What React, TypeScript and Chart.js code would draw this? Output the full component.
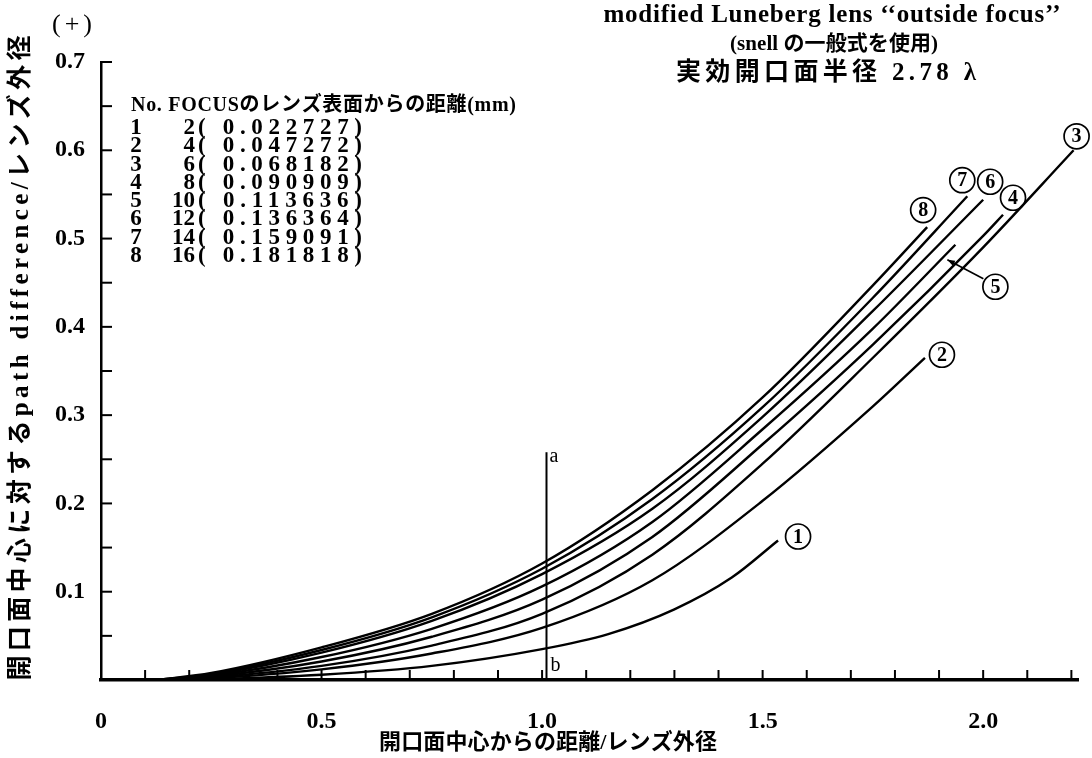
import React, { useEffect, useRef } from 'react';
import { Chart, registerables } from 'chart.js';

Chart.register(...registerables);

const SERIF = "'Liberation Serif', 'DejaVu Serif', 'Noto Sans CJK JP', serif";

// ---- data ----
const C1_X = [0.125, 0.25, 0.5, 0.75, 1.0, 1.15, 1.3, 1.43, 1.535];
const C1_Y = [0, 0.001, 0.006, 0.016, 0.035, 0.052, 0.08, 0.116, 0.158];
const C2_X = [0.125, 0.25, 0.5, 0.75, 1.0, 1.25, 1.5, 1.75, 1.868];
const C2_Y = [0, 0.002, 0.012, 0.03, 0.059, 0.113, 0.203, 0.31, 0.365];
const C3_X = [0.125, 0.25, 0.5, 0.75, 1.0, 1.25, 1.5, 1.75, 2.0, 2.205];
const C3_Y = [0, 0.003, 0.016, 0.039, 0.075, 0.142, 0.245, 0.365, 0.49, 0.6];
const C4_X = [0.125, 0.25, 0.5, 0.75, 1.0, 1.25, 1.5, 1.75, 2.0, 2.045];
const C4_Y = [0, 0.004, 0.021, 0.049, 0.091, 0.162, 0.267, 0.38, 0.503, 0.527];
const C5_X = [0.125, 0.25, 0.5, 0.75, 1.0, 1.25, 1.5, 1.75, 1.937];
const C5_Y = [0, 0.005, 0.026, 0.058, 0.106, 0.179, 0.284, 0.398, 0.493];
const C6_X = [0.125, 0.25, 0.5, 0.75, 1.0, 1.25, 1.5, 1.75, 2.0];
const C6_Y = [0, 0.006, 0.031, 0.067, 0.12, 0.194, 0.298, 0.418, 0.544];
const C7_X = [0.125, 0.25, 0.5, 0.75, 1.0, 1.25, 1.5, 1.75, 1.964];
const C7_Y = [0, 0.007, 0.034, 0.071, 0.126, 0.205, 0.309, 0.433, 0.548];
const C8_X = [0.125, 0.25, 0.5, 0.75, 1.0, 1.25, 1.5, 1.75, 1.873];
const C8_Y = [0, 0.008, 0.037, 0.075, 0.132, 0.215, 0.32, 0.447, 0.513];

const AB_X = [1.01, 1.01];
const AB_Y = [0, 0.258];

const CURVE_LABELS = ['1', '2', '3', '4', '5', '6', '7', '8'];

const X_TICKS = [0, 0.1, 0.2, 0.3, 0.4, 0.5, 0.6, 0.7, 0.8, 0.9, 1.0, 1.1, 1.2, 1.3, 1.4, 1.5, 1.6, 1.7, 1.8, 1.9, 2.0, 2.1, 2.2];
const X_LABELED = [0, 0.5, 1.0, 1.5, 2.0];
const Y_TICKS = [0, 0.05, 0.1, 0.15, 0.2, 0.25, 0.3, 0.35, 0.4, 0.45, 0.5, 0.55, 0.6, 0.65, 0.7];
const Y_LABELED = [0.1, 0.2, 0.3, 0.4, 0.5, 0.6, 0.7];

const LEGEND_HEADER = 'No. FOCUSのレンズ表面からの距離(mm)';
const LEGEND_NO = ['1', '2', '3', '4', '5', '6', '7', '8'];
const LEGEND_MM = ['2', '4', '6', '8', '10', '12', '14', '16'];
const LEGEND_RATIO = ['0.022727', '0.047272', '0.068182', '0.090909', '0.113636', '0.136364', '0.159091', '0.181818'];

const TITLE_LINES = ['modified Luneberg lens ‘‘outside focus’’', '(snell の一般式を使用)', '実効開口面半径 2.78 λ'];
const X_TITLE = '開口面中心からの距離/レンズ外径';
const Y_TITLE = '開口面中心に対するpath difference/レンズ外径';
const SIGN_LABEL = '(+)';

const CURVES_X = [C1_X, C2_X, C3_X, C4_X, C5_X, C6_X, C7_X, C8_X];
const CURVES_Y = [C1_Y, C2_Y, C3_Y, C4_Y, C5_Y, C6_Y, C7_Y, C8_Y];

function fitText(ctx: CanvasRenderingContext2D, text: string, x: number, y: number, width: number, align: 'left' | 'center' | 'right') {
  (ctx as any).letterSpacing = '0px';
  ctx.textAlign = 'left';
  const w0 = ctx.measureText(text).width;
  const n = Array.from(text).length;
  let ls = n > 1 ? (width - w0) / (n - 1) : 0;
  ls = Math.max(-3, Math.min(14, ls));
  (ctx as any).letterSpacing = ls + 'px';
  const visible = w0 + ls * (n - 1);
  const sx = align === 'center' ? x - visible / 2 : align === 'right' ? x - visible : x;
  ctx.fillText(text, sx, y);
  (ctx as any).letterSpacing = '0px';
}

const LABEL_OFFSETS = [[20, -4], [17, -3], [3, -14], [10, -17], [40, 42], [7, -18], [-5, -16], [-4, -17]];

const annotate = {
  id: 'annotate',
  afterDraw(chart: any) {
    const ctx: CanvasRenderingContext2D = chart.ctx;
    const xs = chart.scales.x;
    const ys = chart.scales.y;
    const area = chart.chartArea;
    ctx.save();
    ctx.strokeStyle = '#000';
    ctx.fillStyle = '#000';
    ctx.textBaseline = 'middle';

    // inward ticks
    ctx.lineWidth = 2;
    xs.ticks.forEach((t: any) => {
      if (t.value === 0) return;
      const px = xs.getPixelForValue(t.value);
      ctx.beginPath();
      ctx.moveTo(px, area.bottom);
      ctx.lineTo(px, area.bottom - 10);
      ctx.stroke();
    });
    ys.ticks.forEach((t: any) => {
      if (t.value === 0) return;
      const py = ys.getPixelForValue(t.value);
      ctx.beginPath();
      ctx.moveTo(area.left, py);
      ctx.lineTo(area.left + 11, py);
      ctx.stroke();
    });

    // circled curve labels
    for (let i = 0; i < CURVE_LABELS.length; i++) {
      const meta = chart.getDatasetMeta(i);
      const pt = meta.data[meta.data.length - 1];
      const cx = pt.x + LABEL_OFFSETS[i][0];
      const cy = pt.y + LABEL_OFFSETS[i][1];
      ctx.lineWidth = 1.7;
      ctx.beginPath();
      ctx.arc(cx, cy, 12.5, 0, Math.PI * 2);
      ctx.stroke();
      ctx.font = `bold 20px ${SERIF}`;
      ctx.textAlign = 'center';
      ctx.fillText(CURVE_LABELS[i], cx, cy + 1);
      if (i === 4) {
        const tipX = pt.x - 8;
        const tipY = pt.y + 15;
        const sx = cx - 12;
        const sy = cy - 8;
        ctx.lineWidth = 1.6;
        ctx.beginPath();
        ctx.moveTo(sx, sy);
        ctx.lineTo(tipX, tipY);
        ctx.stroke();
        const ang = Math.atan2(tipY - sy, tipX - sx);
        ctx.beginPath();
        ctx.moveTo(tipX, tipY);
        ctx.lineTo(tipX - 8 * Math.cos(ang - 0.35), tipY - 8 * Math.sin(ang - 0.35));
        ctx.lineTo(tipX - 8 * Math.cos(ang + 0.35), tipY - 8 * Math.sin(ang + 0.35));
        ctx.closePath();
        ctx.fill();
      }
    }

    // a / b labels
    const abMeta = chart.getDatasetMeta(8);
    const pb = abMeta.data[0];
    const pa = abMeta.data[1];
    ctx.font = `20px ${SERIF}`;
    ctx.textAlign = 'left';
    ctx.fillText('a', pa.x + 3, pa.y + 5);
    ctx.fillText('b', pb.x + 4, pb.y - 14);

    // legend table
    ctx.font = `bold 20px ${SERIF}`;
    fitText(ctx, LEGEND_HEADER, 131, 106, 385, 'left');
    ctx.font = `bold 23px ${SERIF}`;
    for (let i = 0; i < LEGEND_NO.length; i++) {
      const y = 128 + i * 18.3;
      ctx.textAlign = 'center';
      ctx.fillText(LEGEND_NO[i], 136, y);
      ctx.textAlign = 'right';
      ctx.fillText(LEGEND_MM[i], 195, y);
      fitText(ctx, '( ' + LEGEND_RATIO[i] + ')', 198, y, 164, 'left');
    }

    // title
    ctx.font = `bold 25px ${SERIF}`;
    fitText(ctx, TITLE_LINES[0], 832, 16, 457, 'center');
    ctx.font = `bold 21px ${SERIF}`;
    fitText(ctx, TITLE_LINES[1], 834, 45, 208, 'center');
    ctx.font = `bold 25px ${SERIF}`;
    fitText(ctx, TITLE_LINES[2], 826, 74, 300, 'center');

    // sign
    ctx.font = `26px ${SERIF}`;
    fitText(ctx, SIGN_LABEL, 72, 25, 40, 'center');

    // axis titles
    ctx.font = `bold 22px ${SERIF}`;
    fitText(ctx, X_TITLE, 548, 743, 338, 'center');
    ctx.save();
    ctx.translate(22, 358);
    ctx.rotate(-Math.PI / 2);
    ctx.font = `bold 25px ${SERIF}`;
    fitText(ctx, Y_TITLE, 0, 0, 645, 'center');
    ctx.restore();

    ctx.restore();
  },
};

const near = (v: number, arr: number[]) => arr.some((a) => Math.abs(a - v) < 1e-6);

export default function App() {
  const ref = useRef<HTMLCanvasElement>(null);
  useEffect(() => {
    const datasets: any[] = CURVES_X.map((xs, i) => ({
      label: CURVE_LABELS[i],
      data: xs.map((x, j) => ({ x, y: CURVES_Y[i][j] })),
      showLine: true,
      borderColor: '#000',
      backgroundColor: '#000',
      borderWidth: 2.4,
      pointRadius: 0,
      cubicInterpolationMode: 'monotone',
      fill: false,
    }));
    datasets.push({
      label: 'ab',
      data: AB_X.map((x, j) => ({ x, y: AB_Y[j] })),
      showLine: true,
      borderColor: '#000',
      borderWidth: 2,
      pointRadius: 0,
      fill: false,
    });
    const zeroPad = (s: any) => {
      s.paddingLeft = 0;
      s.paddingRight = 0;
      s.paddingTop = 0;
      s.paddingBottom = 0;
    };
    const chart = new Chart(ref.current as HTMLCanvasElement, {
      type: 'scatter',
      data: { datasets },
      options: {
        responsive: false,
        animation: false,
        devicePixelRatio: 1,
        layout: { padding: { top: 62, right: 14, left: 0, bottom: 0 } },
        plugins: { legend: { display: false }, tooltip: { enabled: false }, title: { display: false } },
        elements: { point: { radius: 0 } },
        scales: {
          x: {
            type: 'linear',
            min: 0,
            max: 2.215,
            afterBuildTicks: (s: any) => {
              s.ticks = X_TICKS.map((v) => ({ value: v }));
            },
            afterFit: (s: any) => {
              s.height = 78;
              zeroPad(s);
            },
            grid: { display: false, drawTicks: false },
            border: { display: true, color: '#000', width: 3.5 },
            ticks: {
              autoSkip: false,
              maxRotation: 0,
              padding: 27,
              color: '#000',
              font: { family: SERIF, size: 24, weight: 'bold' },
              callback: (v: any) => (near(Number(v), X_LABELED) ? (Number(v) === 0 ? '0' : Number(v).toFixed(1)) : ''),
            },
          },
          y: {
            type: 'linear',
            min: 0,
            max: 0.7,
            afterBuildTicks: (s: any) => {
              s.ticks = Y_TICKS.map((v) => ({ value: v }));
            },
            afterFit: (s: any) => {
              s.width = 101;
              zeroPad(s);
            },
            grid: { display: false, drawTicks: false },
            border: { display: true, color: '#000', width: 2.5 },
            ticks: {
              autoSkip: false,
              padding: 16,
              color: '#000',
              font: { family: SERIF, size: 24, weight: 'bold' },
              callback: (v: any) => (near(Number(v), Y_LABELED) ? Number(v).toFixed(1) : ''),
            },
          },
        },
      } as any,
      plugins: [annotate],
    });
    return () => chart.destroy();
  }, []);
  return (
    <div style={{ position: 'fixed', left: 0, top: 0, width: 1092, height: 758, background: '#fff' }}>
      <canvas ref={ref} width={1092} height={758} style={{ display: 'block', width: 1092, height: 758 }} />
    </div>
  );
}
